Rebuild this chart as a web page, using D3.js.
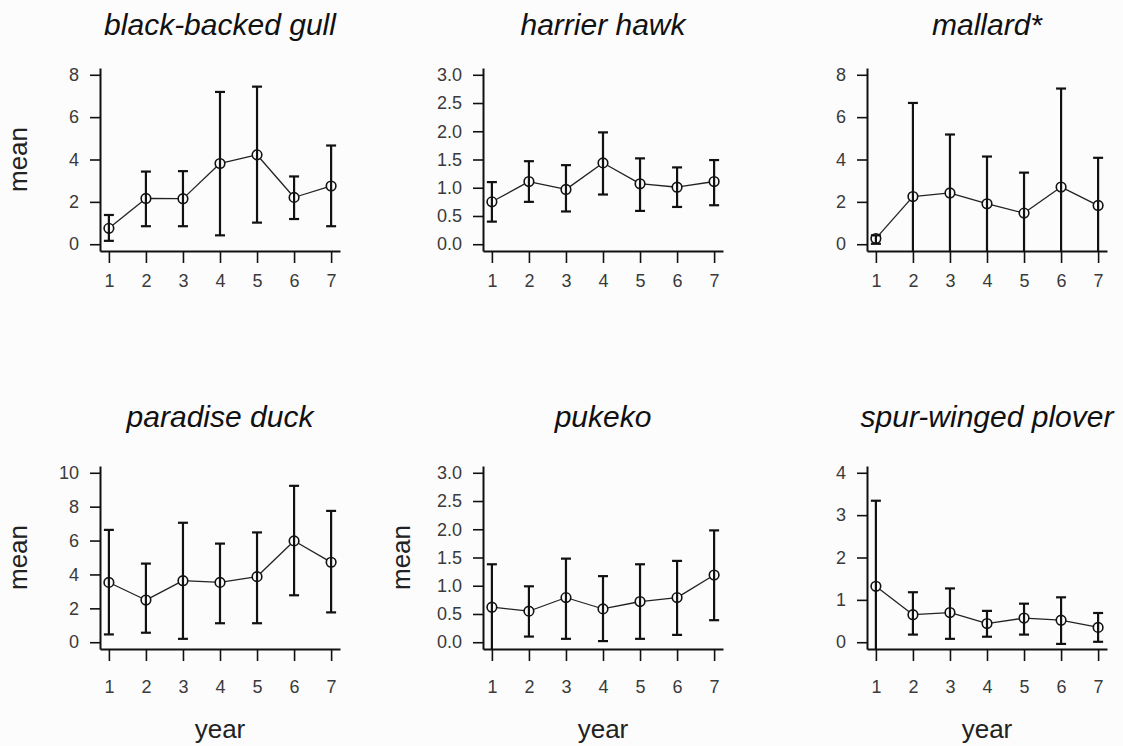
<!DOCTYPE html>
<html lang="en">

<head>
    <meta charset="UTF-8">
    <title>Bird counts by year</title>
    <style>
        body { margin: 0; background: #fcfcfc; }
        svg { display: block; }
    </style>
</head>

<body>
    <script src="https://cdn.jsdelivr.net/npm/d3@7"></script>
    <script>

        const width = 1123;
        const height = 746;

        // data
        const years = [1, 2, 3, 4, 5, 6, 7];
        const species = ["black-backed gull", "harrier hawk", "mallard*", "paradise duck", "pukeko", "spur-winged plover"];

        const gullMean = [0.75, 2.16, 2.15, 3.81, 4.22, 2.21, 2.75];
        const gullHi = [1.38, 3.43, 3.45, 7.19, 7.44, 3.20, 4.66];
        const gullLo = [0.16, 0.85, 0.85, 0.42, 1.02, 1.19, 0.85];

        const hawkMean = [0.75, 1.11, 0.97, 1.44, 1.07, 1.01, 1.11];
        const hawkHi = [1.10, 1.47, 1.40, 1.98, 1.52, 1.36, 1.49];
        const hawkLo = [0.40, 0.75, 0.58, 0.88, 0.59, 0.66, 0.69];

        const mallardMean = [0.27, 2.25, 2.42, 1.91, 1.47, 2.70, 1.83];
        const mallardHi = [0.42, 6.67, 5.18, 4.14, 3.38, 7.35, 4.08];
        const mallardLo = [0.02, -2.17, -0.34, -0.32, -0.44, -1.95, -0.42];

        const duckMean = [3.53, 2.49, 3.63, 3.53, 3.87, 5.98, 4.72];
        const duckHi = [6.63, 4.64, 7.05, 5.82, 6.48, 9.23, 7.75];
        const duckLo = [0.46, 0.56, 0.20, 1.12, 1.12, 2.77, 1.76];

        const pukekoMean = [0.62, 0.55, 0.79, 0.59, 0.72, 0.79, 1.19];
        const pukekoHi = [1.38, 0.99, 1.48, 1.17, 1.38, 1.44, 1.98];
        const pukekoLo = [-0.14, 0.10, 0.06, 0.02, 0.06, 0.13, 0.39];

        const ploverMean = [1.32, 0.65, 0.70, 0.44, 0.57, 0.52, 0.35];
        const ploverHi = [3.34, 1.18, 1.27, 0.74, 0.91, 1.06, 0.69];
        const ploverLo = [-0.70, 0.18, 0.08, 0.13, 0.18, -0.04, 0.01];

        // y tick labels
        const ticks8 = [0, 2, 4, 6, 8];
        const ticks10 = [0, 2, 4, 6, 8, 10];
        const ticks3 = [0, 0.5, 1, 1.5, 2, 2.5, 3];
        const ticks4 = [0, 1, 2, 3, 4];

        // panel layout
        const cols = [100, 483, 867];
        const rows = [68, 466];
        const pw = 240, ph = 183;

        const panels = [
            { name: species[0], mean: gullMean, hi: gullHi, lo: gullLo, ticks: ticks8, fmt: d3.format("d"), col: 0, row: 0, ylab: true },
            { name: species[1], mean: hawkMean, hi: hawkHi, lo: hawkLo, ticks: ticks3, fmt: d3.format(".1f"), col: 1, row: 0 },
            { name: species[2], mean: mallardMean, hi: mallardHi, lo: mallardLo, ticks: ticks8, fmt: d3.format("d"), col: 2, row: 0 },
            { name: species[3], mean: duckMean, hi: duckHi, lo: duckLo, ticks: ticks10, fmt: d3.format("d"), col: 0, row: 1, ylab: true, xlab: true },
            { name: species[4], mean: pukekoMean, hi: pukekoHi, lo: pukekoLo, ticks: ticks3, fmt: d3.format(".1f"), col: 1, row: 1, ylab: true, xlab: true },
            { name: species[5], mean: ploverMean, hi: ploverHi, lo: ploverLo, ticks: ticks4, fmt: d3.format("d"), col: 2, row: 1, xlab: true }
        ];

        const svg = d3.select("body").append("svg")
            .attr("width", width)
            .attr("height", height)
            .attr("font-family", "'Liberation Sans', Arial, sans-serif");

        const ink = "#111";

        panels.forEach((p, i) => {
            const left = cols[p.col], top = rows[p.row];
            const bottom = top + ph;

            const x = d3.scaleLinear().domain([0.76, 7.24]).range([left, left + pw]);
            const t0 = p.ticks[0], t1 = p.ticks[p.ticks.length - 1];
            const pad = (t1 - t0) * 0.04;
            const y = d3.scaleLinear().domain([t0 - pad, t1 + pad]).range([bottom, top]);

            const g = svg.append("g");

            // clip to plot region
            g.append("clipPath").attr("id", "clip" + i)
                .append("rect")
                .attr("x", left).attr("y", top)
                .attr("width", pw).attr("height", ph);

            // axes
            const yAxis = g.append("g")
                .attr("transform", `translate(${left},0)`)
                .call(d3.axisLeft(y).tickValues(p.ticks).tickFormat(p.fmt).tickSize(10).tickSizeOuter(0).tickPadding(11));

            const xAxis = g.append("g")
                .attr("transform", `translate(0,${bottom})`)
                .call(d3.axisBottom(x).tickValues(years).tickFormat(d3.format("d")).tickSize(12).tickSizeOuter(0)
                    .tickPadding(p.row === 0 ? 11 : 19));

            [yAxis, xAxis].forEach(ax => {
                ax.select(".domain").attr("stroke", ink).attr("stroke-width", 2);
                ax.selectAll(".tick line").attr("stroke", ink).attr("stroke-width", 1.6);
                ax.selectAll(".tick text").attr("font-size", 18).attr("fill", "#3a3a3a")
                    .attr("font-family", "'Liberation Sans', Arial, sans-serif");
            });

            // title
            g.append("text")
                .attr("x", left + pw / 2)
                .attr("y", p.row === 0 ? 35 : 427)
                .attr("text-anchor", "middle")
                .attr("font-size", 30)
                .attr("font-style", "italic")
                .attr("fill", ink)
                .text(p.name);

            if (p.ylab) {
                g.append("text")
                    .attr("transform", `translate(${left - 73},${top + ph / 2}) rotate(-90)`)
                    .attr("text-anchor", "middle")
                    .attr("font-size", 26)
                    .attr("fill", "#222")
                    .text("mean");
            }
            if (p.xlab) {
                g.append("text")
                    .attr("x", left + pw / 2)
                    .attr("y", bottom + 89)
                    .attr("text-anchor", "middle")
                    .attr("font-size", 26)
                    .attr("fill", "#222")
                    .text("year");
            }

            const pts = years.map((yr, j) => ({ yr, m: p.mean[j], hi: p.hi[j], lo: p.lo[j] }));
            const plot = g.append("g").attr("clip-path", `url(#clip${i})`);
            const r = 4.8;

            // connecting line, broken at the points
            const segs = d3.pairs(pts).map(([a, b]) => {
                const x1 = x(a.yr), y1 = y(a.m), x2 = x(b.yr), y2 = y(b.m);
                const len = Math.hypot(x2 - x1, y2 - y1);
                const ux = (x2 - x1) / len, uy = (y2 - y1) / len;
                return [x1 + ux * r, y1 + uy * r, x2 - ux * r, y2 - uy * r];
            });
            plot.selectAll(".seg")
                .data(segs)
                .join("line")
                .attr("class", "seg")
                .attr("x1", d => d[0]).attr("y1", d => d[1])
                .attr("x2", d => d[2]).attr("y2", d => d[3])
                .attr("stroke", "#222")
                .attr("stroke-width", 1.3);

            // points
            plot.selectAll("circle")
                .data(pts)
                .join("circle")
                .attr("cx", d => x(d.yr))
                .attr("cy", d => y(d.m))
                .attr("r", r)
                .attr("fill", "none")
                .attr("stroke", ink)
                .attr("stroke-width", 1.6);

            // error bars
            const bars = plot.selectAll(".bar")
                .data(pts)
                .join("g")
                .attr("class", "bar")
                .attr("stroke", ink)
                .attr("stroke-width", 2.2);
            bars.append("line")
                .attr("x1", d => x(d.yr)).attr("x2", d => x(d.yr))
                .attr("y1", d => y(d.hi)).attr("y2", d => y(d.lo));
            bars.append("line")
                .attr("x1", d => x(d.yr) - 5).attr("x2", d => x(d.yr) + 5)
                .attr("y1", d => y(d.hi)).attr("y2", d => y(d.hi));
            bars.filter(d => y(d.lo) < bottom)
                .append("line")
                .attr("x1", d => x(d.yr) - 5).attr("x2", d => x(d.yr) + 5)
                .attr("y1", d => y(d.lo)).attr("y2", d => y(d.lo));
        });

    </script>
</body>

</html>
